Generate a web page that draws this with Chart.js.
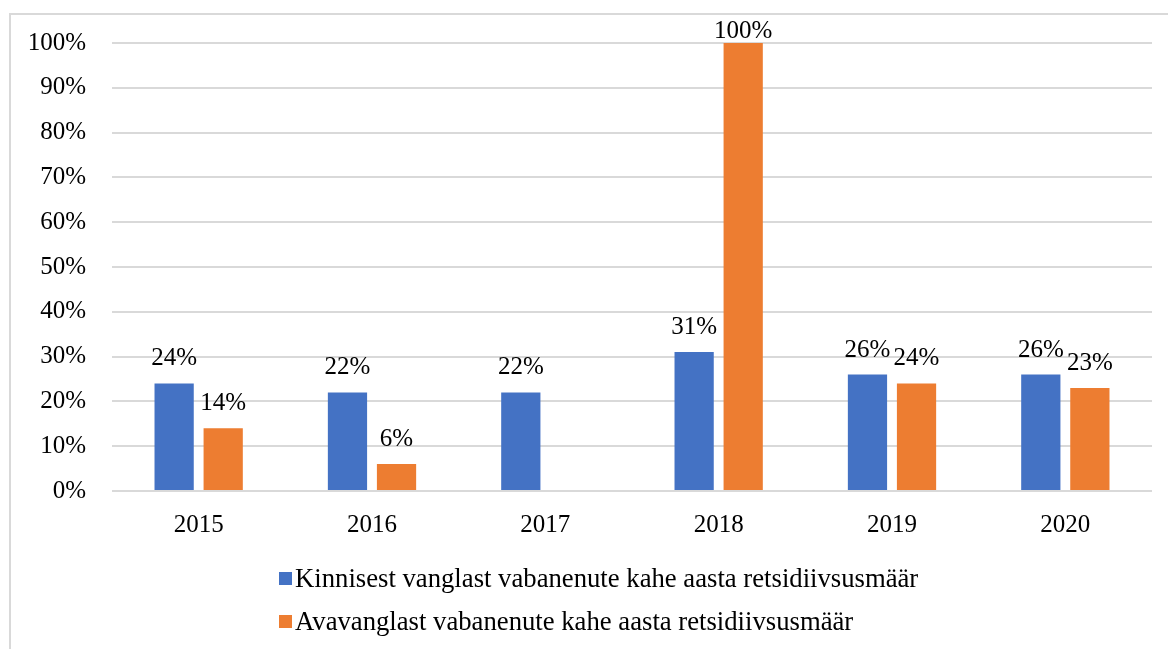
<!DOCTYPE html>
<html>
<head>
<meta charset="utf-8">
<script src="https://cdn.jsdelivr.net/npm/chart.js@4/dist/chart.umd.min.js"></script>
<style>
  html, body { margin: 0; padding: 0; background: #fff; }
  #wrap { position: relative; width: 1168px; height: 649px; overflow: hidden; }
  #frame { position: absolute; left: 9px; top: 13px; width: 1200px; height: 700px; border: 2px solid #d9d9d9; box-sizing: border-box; }
  #chart { position: absolute; left: 0; top: 0; }
  #legend { position: absolute; left: 279px; top: 557px; font-family: 'Liberation Serif', 'Times New Roman', serif; font-size: 26.7px; color: #000; }
  .item { display: flex; align-items: center; height: 43px; white-space: nowrap; }
  .box { width: 13px; height: 13px; margin-right: 3px; flex: none; }
</style>
</head>
<body>
<div id="wrap">
  <div id="frame"></div>
  <canvas id="chart" width="1168" height="649"></canvas>
  <div id="legend"></div>
</div>
<script>
// Kinnine vangla vs avavangla, kahe aasta retsidiivsus (%)
const years = ['2015', '2016', '2017', '2018', '2019', '2020'];
const closedPrison = [24, 22, 22, 31, 26, 26];
const openPrison = [14, 6, null, 100, 24, 23];
const seriesNames = [
    'Kinnisest vanglast vabanenute kahe aasta retsidiivsusmäär',
    'Avavanglast vabanenute kahe aasta retsidiivsusmäär',
];
const seriesColors = ['#4472C4', '#ED7D31'];

const FONT = "'Liberation Serif', 'Times New Roman', serif";

// value labels above the bars
const barLabels = {
    id: 'barLabels',
    afterDatasetsDraw(chart) {
        const ctx = chart.ctx;
        ctx.save();
        ctx.font = '25px ' + FONT;
        ctx.fillStyle = '#000';
        ctx.textAlign = 'center';
        ctx.textBaseline = 'alphabetic';
        chart.data.datasets.forEach((ds, i) => {
            chart.getDatasetMeta(i).data.forEach((bar, j) => {
                const v = ds.data[j];
                if (v === null || v === undefined) return;
                const y = Math.max(bar.y - 18, chart.chartArea.top - 5);
                ctx.fillText(v + '%', bar.x, y);
            });
        });
        ctx.restore();
    }
};

const chart = new Chart(document.getElementById('chart'), {
    type: 'bar',
    data: {
        labels: years,
        datasets: [closedPrison, openPrison].map((d, i) => ({
            label: seriesNames[i],
            data: d,
            backgroundColor: seriesColors[i],
            categoryPercentage: 0.566,
            barPercentage: 0.8,
        })),
    },
    options: {
        responsive: false,
        animation: false,
        layout: { padding: { left: 0, right: 16, top: 43, bottom: 98 } },
        plugins: {
            legend: { display: false },
            tooltip: { enabled: false },
        },
        scales: {
            x: {
                grid: { display: false },
                border: { display: false },
                ticks: { color: '#000', font: { family: FONT, size: 25 }, padding: 11 },
                afterFit(scale) { scale.height = 60; },
            },
            y: {
                min: 0,
                max: 100,
                ticks: {
                    stepSize: 10,
                    color: '#000',
                    font: { family: FONT, size: 25 },
                    padding: 26,
                    callback: v => v + '%',
                },
                grid: { color: '#d9d9d9', lineWidth: 2, drawTicks: false },
                border: { display: false },
                afterFit(scale) { scale.width = 112; },
            }
        }
    },
    plugins: [barLabels],
});

// legend as two left-aligned rows
const legendEl = document.getElementById('legend');
chart.data.datasets.forEach(ds => {
    const row = document.createElement('div');
    row.className = 'item';
    const box = document.createElement('span');
    box.className = 'box';
    box.style.background = ds.backgroundColor;
    const txt = document.createElement('span');
    txt.textContent = ds.label;
    row.appendChild(box);
    row.appendChild(txt);
    legendEl.appendChild(row);
});
</script>
</body>
</html>
